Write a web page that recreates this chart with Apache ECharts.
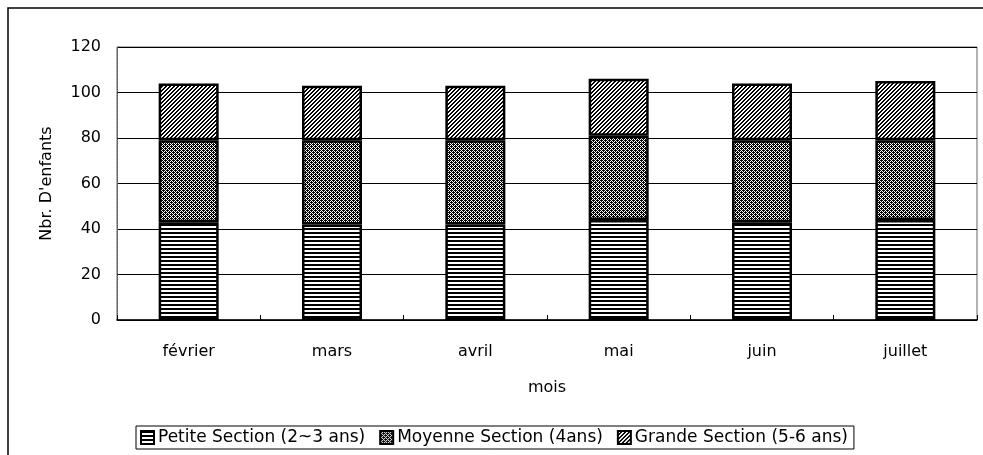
<!DOCTYPE html>
<html>
<head>
<meta charset="utf-8">
<style>
  html, body { margin: 0; padding: 0; background: #fff; }
  #chart { width: 983px; height: 455px; }
</style>
<script src="https://cdn.jsdelivr.net/npm/echarts@6/dist/echarts.min.js"></script>
</head>
<body>
<div id="chart"></div>
<script>
const months = ["février", "mars", "avril", "mai", "juin", "juillet"];
const petite = [43, 42, 42, 44, 43, 44];
const moyenne = [36, 37, 37, 37, 36, 35];
const grande = [25, 24, 24, 25, 25, 26];
const seriesNames = ["Petite Section (2~3 ans)", "Moyenne Section (4ans)", "Grande Section (5-6 ans)"];
const yTicks = [0, 20, 40, 60, 80, 100, 120];

// small canvases used as fill patterns (scanned b/w look)
function makePattern(kind) {
  const c = document.createElement("canvas");
  const ctx = c.getContext("2d");
  if (kind === "hlines") {
    c.width = 8; c.height = 4;
    ctx.fillStyle = "#fff"; ctx.fillRect(0, 0, 8, 4);
    ctx.fillStyle = "#000"; ctx.fillRect(0, 0, 8, 2);
  } else if (kind === "checker") {
    c.width = 4; c.height = 4;
    ctx.fillStyle = "#fff"; ctx.fillRect(0, 0, 4, 4);
    ctx.fillStyle = "#000";
    ctx.fillRect(0, 0, 1, 1); ctx.fillRect(2, 0, 1, 1);
    ctx.fillRect(1, 1, 1, 1); ctx.fillRect(3, 1, 1, 1);
    ctx.fillRect(0, 2, 1, 1); ctx.fillRect(2, 2, 1, 1);
    ctx.fillRect(1, 3, 1, 1); ctx.fillRect(3, 3, 1, 1);
    ctx.fillRect(1, 0, 1, 1); ctx.fillRect(3, 2, 1, 1);
  } else {
    c.width = 4; c.height = 4;
    ctx.fillStyle = "#fff"; ctx.fillRect(0, 0, 4, 4);
    ctx.fillStyle = "#000";
    for (let i = 0; i < 4; i++) {
      ctx.fillRect(3 - i, i, 1, 1);
      ctx.fillRect((4 - i) % 4, i, 1, 1);
    }
  }
  return { image: c, repeat: "repeat" };
}

const font = "'DejaVu Sans', sans-serif";
const chart = echarts.init(document.getElementById("chart"));

function barSeries(name, data, kind) {
  return {
    name, type: "bar", stack: "total", data, barWidth: 60,
    itemStyle: { color: makePattern(kind), borderColor: "#000", borderWidth: 2.5 },
  };
}

chart.setOption({
  animation: false,
  textStyle: { fontFamily: font, color: "#000" },
  graphic: [{
    type: "polyline", silent: true,
    shape: { points: [[8, 455], [8, 8], [983, 8]] },
    style: { stroke: "#000", lineWidth: 1.5, fill: null },
  }],
  legend: {
    bottom: 6, left: 136,
    itemWidth: 13, itemHeight: 13, itemGap: 14,
    icon: "rect",
    borderColor: "#000", borderWidth: 1,
    padding: [3, 6, 3, 4],
    textStyle: { fontSize: 17, color: "#000", fontFamily: font, padding: [0, 0, 0, -1] },
    data: seriesNames,
  },
  grid: { left: 117, right: 6, top: 47, bottom: 135, show: true, borderColor: "#666", borderWidth: 1 },
  xAxis: {
    type: "category", data: months,
    name: "mois", nameLocation: "middle", nameGap: 60,
    nameTextStyle: { fontSize: 16, color: "#000" },
    axisLine: { lineStyle: { color: "#000", width: 1.5 } },
    axisTick: { show: true, inside: true, length: 5, lineStyle: { color: "#000" } },
    axisLabel: { fontSize: 16, color: "#000", margin: 24 },
  },
  yAxis: {
    type: "value", min: 0, max: 120, interval: 20,
    name: "Nbr. D'enfants", nameLocation: "middle", nameGap: 62,
    nameTextStyle: { fontSize: 16, color: "#000" },
    axisLine: { show: true, lineStyle: { color: "#555", type: "dotted" } },
    axisTick: { show: false },
    axisLabel: { fontSize: 16, color: "#000", margin: 16,
      formatter: (v) => (yTicks.includes(v) ? String(v) : "") },
    splitLine: { lineStyle: { color: "#000", width: 1 } },
  },
  series: [
    barSeries(seriesNames[0], petite, "hlines"),
    barSeries(seriesNames[1], moyenne, "checker"),
    barSeries(seriesNames[2], grande, "diag"),
  ],
});
</script>
</body>
</html>
